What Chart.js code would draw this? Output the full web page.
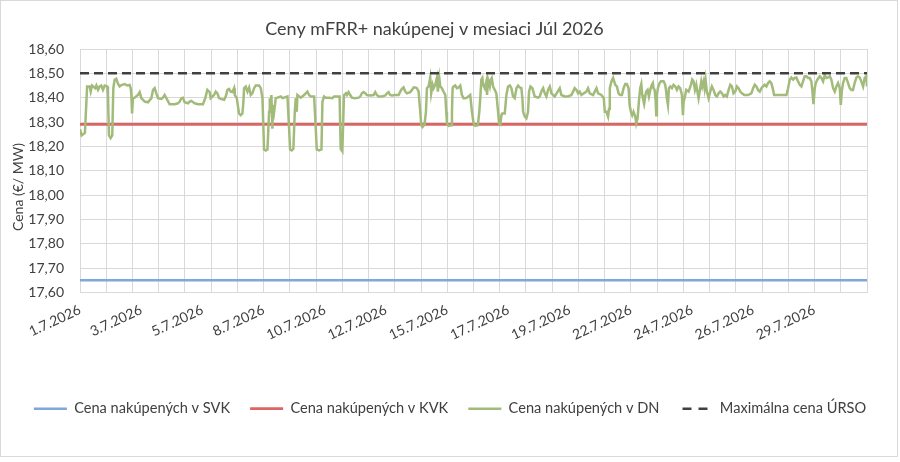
<!DOCTYPE html>
<html><head><meta charset="utf-8">
<script src="https://cdn.jsdelivr.net/npm/chart.js@4.4.1/dist/chart.umd.min.js"></script>
<style>
html,body{margin:0;padding:0;background:#fff;}
#wrap{position:relative;width:900px;height:462px;}
#frame{position:absolute;left:0;top:0;width:896px;height:455px;border:1px solid #d9d9d9;pointer-events:none;}
canvas{display:block;}
</style></head><body>
<div id="wrap"><canvas id="c" width="900" height="462"></canvas><div id="frame"></div></div>
<script>
const chartTitle = 'Ceny mFRR+ nakúpenej v mesiaci Júl 2026';
const yAxisTitle = 'Cena (€/ MW)';
const seriesNames = ['Cena nakúpených v SVK', 'Cena nakúpených v KVK', 'Cena nakúpených v DN', 'Maximálna cena ÚRSO'];
const tickLabels = ['1.7.2026','3.7.2026','5.7.2026','8.7.2026','10.7.2026','12.7.2026','15.7.2026','17.7.2026','19.7.2026','22.7.2026','24.7.2026','26.7.2026','29.7.2026'];
const tickStepHours = 56;
const dayHours = 24;
const monthHours = [0, 720];
const svkPrices = [17.65, 17.65];
const kvkPrices = [18.29, 18.29];
const ursoPrices = [18.50, 18.50];

const dnHours = [
0,1.5,4.5,6.5,8.8,9.8,11,14,15,16.5,18,19.5,21,22.6,25,25.6,26.5,28,29.5,30.5,31.7,33.2,34.8,36.3,37.8,40.9,43.3,45.4,46.4,47,47.6,48.5,50,53,54.6,56.1,59.2,62.2,65.3,66.8,68.3,69.8,71.4,74.4,75.9,77.4,79,82,86.6,89.6,91.2,92.7,94.2,95.7,98.8,100.3,101.8,104.9,107.9,112.5,114.6,116.5,118.6,
119.6,122.6,124.2,125.7,127.2,128.8,131.8,133.3,134.9,136.4,137.9,139.4,141,141.6,143.4,145.5,147,148.6,149.5,150.1,151.6,153.2,154.7,156.2,157.7,159.3,160.8,163.8,165.4,166.9,167.8,168.4,169.9,171.5,173,173.6,174.5,175.1,176,176.6,177.6,179.1,180.6,183.7,185.2,189.8,191.3,192.2,193.7,195.2,196.5,197.4,198.3,198.9,202,205,206.5,208,209.6,211.1,214.2,215.7,216.6,218.7,220.9,221.8,223.3,224.8,227.9,230.9,232.5,235.5,237.5,238.5,240,241.5,
243.3,244.2,245.7,247.2,248.7,251.8,254.9,256.4,257.9,259.4,261,262.5,265.5,268.6,270.1,271.6,273.2,276.2,279.3,280.8,282.3,283.8,285.4,288.4,291.5,293,294.5,296,297.6,299.1,302.1,303.7,305.2,306.7,308.2,309.8,311.3,312.2,313.4,315.2,316.5,317.4,318.9,320.4,321.3,322.6,323.5,325,326.5,327.4,328.7,329.6,331.1,332.6,334.2,335.1,335.7,337.2,339.6,340.3,340.9,341.8,343.3,344.8,346.4,347.9,349.4,350.9,352.5,354,357,358.6,360.1,361.6,364,365.3,366.2,
367.2,368.1,368.8,370.3,371.8,372.4,373.3,374.9,375.8,376.7,377.9,379.4,380.9,382.5,383.4,384.6,385.5,386.4,388.6,390.1,391.6,393.2,394.7,396.2,397.7,399.3,400.8,402.3,403.8,404.7,405.4,406.9,408.4,409.9,410.8,412.1,413.9,416,419.1,420.6,422.1,423.7,425.2,426.7,428.2,429.8,431.3,434.3,437.4,438.9,440.4,443.5,446.5,449.6,451.1,452.6,454.2,455.7,457.2,458.7,463.3,464.8,466.4,469.4,470.9,472.5,474,477,479.2,480.1,481.6,483.1,484,484.7,486.2,487.7,
489.7,491.2,492.7,494.2,495.8,497.3,498.8,500.3,501.9,502.8,504,505.2,506.4,508,508.9,510.1,511.3,512.5,513.5,514.4,515,516.2,517.1,518,519.3,520.5,521.7,523.2,524.1,524.7,525.7,526.6,527.2,527.8,528.7,530.2,531.5,533.9,535.4,536.3,536.9,537.9,538.8,540,541.5,543,544.6,546.1,547.6,549.1,550.7,551.6,552.2,553.1,554.6,556.8,558.9,560.1,561.3,562.6,563.8,565.9,567.4,568.4,569.3,570.5,571.4,572.3,573.5,575.1,576.6,578.1,579.6,581.2,582.7,584.2,585.7,587.3,588.8,590.3,591.8,593.4,594.9,596.4,597.9,599.5,601,602.5,604,605.6,607.7,610.1,
611.2,614.2,615.8,617.3,618.8,620.3,621.9,623.4,624.9,626.4,628,629.5,631,632.5,634.1,635,637.1,640.2,643.2,646.3,647.8,649.3,650.8,652.4,653.9,655.4,656.9,658.5,660,661.5,663,664.6,666.1,667.6,669.1,670.1,671,672.2,673.1,674.6,676.8,678.3,679.8,681.3,682.9,684.4,685.9,687.4,689,690.5,692,693.5,695.1,696,696.9,698.1,699.6,701.1,702.7,704.2,705.7,707.2,708.7,710.3,711.8,713.3,714.8,716.4,717.9,719.4,720
];
const dnPrices = [
18.27,18.245,18.255,18.446,18.446,18.425,18.45,18.439,18.45,18.432,18.446,18.45,18.432,18.45,18.446,18.41,18.245,18.234,18.245,18.44,18.474,18.478,18.456,18.446,18.452,18.456,18.45,18.452,18.439,18.411,18.335,18.398,18.40,18.411,18.423,18.398,18.384,18.381,18.398,18.432,18.439,18.418,18.398,18.395,18.40,18.411,18.398,18.373,18.373,18.377,18.384,18.398,18.40,18.381,18.377,18.384,18.387,18.377,18.373,18.373,18.398,18.432,18.423,
18.398,18.411,18.425,18.418,18.398,18.395,18.391,18.405,18.432,18.436,18.425,18.423,18.439,18.411,18.398,18.335,18.328,18.335,18.384,18.439,18.446,18.425,18.442,18.411,18.418,18.439,18.45,18.45,18.439,18.398,18.273,18.187,18.183,18.187,18.342,18.398,18.37,18.411,18.273,18.37,18.342,18.398,18.40,18.405,18.398,18.405,18.273,18.187,18.183,18.19,18.342,18.398,18.342,18.411,18.40,18.411,18.418,18.425,18.411,18.405,18.405,18.273,18.187,18.183,18.187,18.384,18.405,18.40,18.40,18.398,18.405,18.405,18.405,18.19,18.18,18.41,
18.418,18.411,18.423,18.411,18.40,18.398,18.40,18.405,18.418,18.423,18.418,18.411,18.409,18.411,18.423,18.411,18.405,18.405,18.409,18.418,18.423,18.411,18.409,18.411,18.411,18.425,18.436,18.442,18.425,18.418,18.423,18.432,18.442,18.442,18.439,18.425,18.342,18.287,18.28,18.29,18.342,18.439,18.446,18.483,18.418,18.453,18.439,18.453,18.481,18.425,18.481,18.446,18.439,18.425,18.411,18.342,18.294,18.284,18.287,18.342,18.439,18.446,18.45,18.439,18.442,18.45,18.411,18.398,18.398,18.40,18.411,18.342,18.294,18.284,18.287,18.342,18.40,
18.474,18.481,18.453,18.439,18.467,18.411,18.474,18.446,18.474,18.481,18.446,18.432,18.418,18.342,18.294,18.29,18.328,18.335,18.335,18.411,18.446,18.45,18.439,18.405,18.398,18.439,18.45,18.442,18.439,18.398,18.342,18.322,18.315,18.342,18.425,18.446,18.439,18.405,18.40,18.405,18.425,18.439,18.418,18.405,18.432,18.446,18.418,18.405,18.428,18.439,18.411,18.405,18.405,18.411,18.425,18.439,18.432,18.418,18.425,18.411,18.425,18.439,18.418,18.411,18.425,18.439,18.418,18.411,18.398,18.342,18.342,18.322,18.355,18.439,18.467,18.481,
18.453,18.446,18.418,18.411,18.411,18.439,18.456,18.456,18.439,18.37,18.342,18.328,18.342,18.322,18.294,18.315,18.384,18.439,18.456,18.411,18.398,18.377,18.405,18.425,18.432,18.405,18.432,18.453,18.46,18.439,18.432,18.391,18.328,18.411,18.439,18.46,18.467,18.467,18.453,18.425,18.398,18.37,18.439,18.446,18.439,18.453,18.446,18.432,18.446,18.439,18.411,18.328,18.384,18.398,18.432,18.425,18.453,18.474,18.467,18.432,18.453,18.398,18.439,18.467,18.446,18.467,18.439,18.474,18.425,18.398,18.425,18.446,18.432,18.411,18.405,18.418,18.425,18.418,18.405,18.411,18.405,18.432,18.453,18.446,18.418,18.425,18.446,18.439,18.425,18.418,18.411,18.411,
18.411,18.418,18.439,18.453,18.446,18.432,18.425,18.439,18.446,18.453,18.446,18.46,18.467,18.46,18.432,18.411,18.411,18.411,18.411,18.411,18.439,18.474,18.483,18.474,18.481,18.483,18.467,18.453,18.446,18.467,18.488,18.488,18.481,18.481,18.467,18.425,18.373,18.439,18.46,18.474,18.488,18.481,18.467,18.492,18.481,18.483,18.488,18.474,18.439,18.425,18.446,18.46,18.439,18.37,18.425,18.46,18.481,18.481,18.46,18.439,18.432,18.432,18.46,18.483,18.488,18.483,18.467,18.446,18.481,18.488,18.446
];

const FONT = 'Lato';
const TXT = '#404040';
const GRID = '#d9d9d9';

function pts(xs, ys) { return xs.map((x, i) => ({ x: x, y: ys[i] })); }

const textPlugin = {
  id: 'chartTexts',
  afterDraw(chart) {
    const ctx = chart.ctx;
    ctx.save();
    ctx.font = '18px ' + FONT;
    ctx.fillStyle = TXT;
    ctx.textAlign = 'center';
    ctx.textBaseline = 'middle';
    ctx.fillText(chartTitle, 434.5, 29);
    ctx.translate(18, 187);
    ctx.rotate(-Math.PI / 2);
    ctx.font = '14px ' + FONT;
    ctx.fillText(yAxisTitle, 0, 0);
    ctx.restore();
  }
};

new Chart(document.getElementById('c'), {
  type: 'line',
  data: {
    datasets: [
      { label: seriesNames[0], data: pts(monthHours, svkPrices), borderColor: '#7FA7D8', backgroundColor: '#7FA7D8', borderWidth: 2.5, pointRadius: 0, pointStyle: 'line', order: 4 },
      { label: seriesNames[1], data: pts(monthHours, kvkPrices), borderColor: '#DC6462', backgroundColor: '#DC6462', borderWidth: 2.8, pointRadius: 0, pointStyle: 'line', order: 3 },
      { label: seriesNames[2], data: pts(dnHours, dnPrices), borderColor: '#A2BB7A', backgroundColor: '#A2BB7A', borderWidth: 2.5, pointRadius: 0, pointStyle: 'line', tension: 0, order: 2 },
      { label: seriesNames[3], data: pts(monthHours, ursoPrices), borderColor: '#404040', backgroundColor: '#404040', borderWidth: 2.5, borderDash: [9, 5], pointRadius: 0, pointStyle: 'line', order: 1 }
    ]
  },
  options: {
    responsive: false,
    animation: false,
    layout: { padding: { left: 0, right: 0, top: 49, bottom: 36 } },
    plugins: {
      title: { display: false },
      legend: {
        position: 'bottom',
        labels: {
          usePointStyle: true, pointStyleWidth: 33, padding: 20, color: TXT,
          font: { family: FONT, size: 14.6 },
          sort: (a, b) => a.datasetIndex - b.datasetIndex,
          generateLabels: (chart) => {
            const items = Chart.defaults.plugins.legend.labels.generateLabels(chart);
            items.forEach((it) => {
              const ds = chart.data.datasets[it.datasetIndex];
              it.lineDash = ds.borderDash ? [9, 7] : [];
              it.lineDashOffset = ds.borderDash ? -3 : 0;
              it.lineWidth = ds.borderWidth;
              it.strokeStyle = ds.borderColor;
              it.fillStyle = ds.borderColor;
            });
            return items;
          }
        }
      },
      tooltip: { enabled: false }
    },
    scales: {
      x: {
        type: 'linear', min: 0, max: 720,
        afterBuildTicks: (scale) => {
          const t = [];
          for (let v = 0; v <= 720; v += 8) t.push({ value: v });
          scale.ticks = t;
        },
        afterFit: (scale) => { scale.height = 89; },
        grid: { color: (c) => (c.tick && c.tick.value % dayHours === 0) ? GRID : 'rgba(0,0,0,0)', drawTicks: false, lineWidth: 1 },
        border: { color: GRID },
        ticks: {
          autoSkip: false, minRotation: 25, maxRotation: 25, padding: 9, color: TXT,
          font: { family: FONT, size: 14 },
          callback: (v) => (v % tickStepHours === 0 && tickLabels[v / tickStepHours]) ? tickLabels[v / tickStepHours] : ''
        }
      },
      y: {
        min: 17.6, max: 18.6,
        afterFit: (scale) => { scale.width = 80; },
        grid: { color: GRID, drawTicks: false },
        border: { color: GRID },
        ticks: { stepSize: 0.1, padding: 16, color: TXT, font: { family: FONT, size: 14 },
          callback: (v) => v.toFixed(2).replace('.', ',') }
      },
      yPad: {
        position: 'right', min: 17.6, max: 18.6,
        afterFit: (scale) => { scale.width = 33; },
        grid: { display: false, drawTicks: false },
        border: { display: false },
        ticks: { display: false }
      }
    }
  },
  plugins: [textPlugin]
});
</script>
</body></html>
